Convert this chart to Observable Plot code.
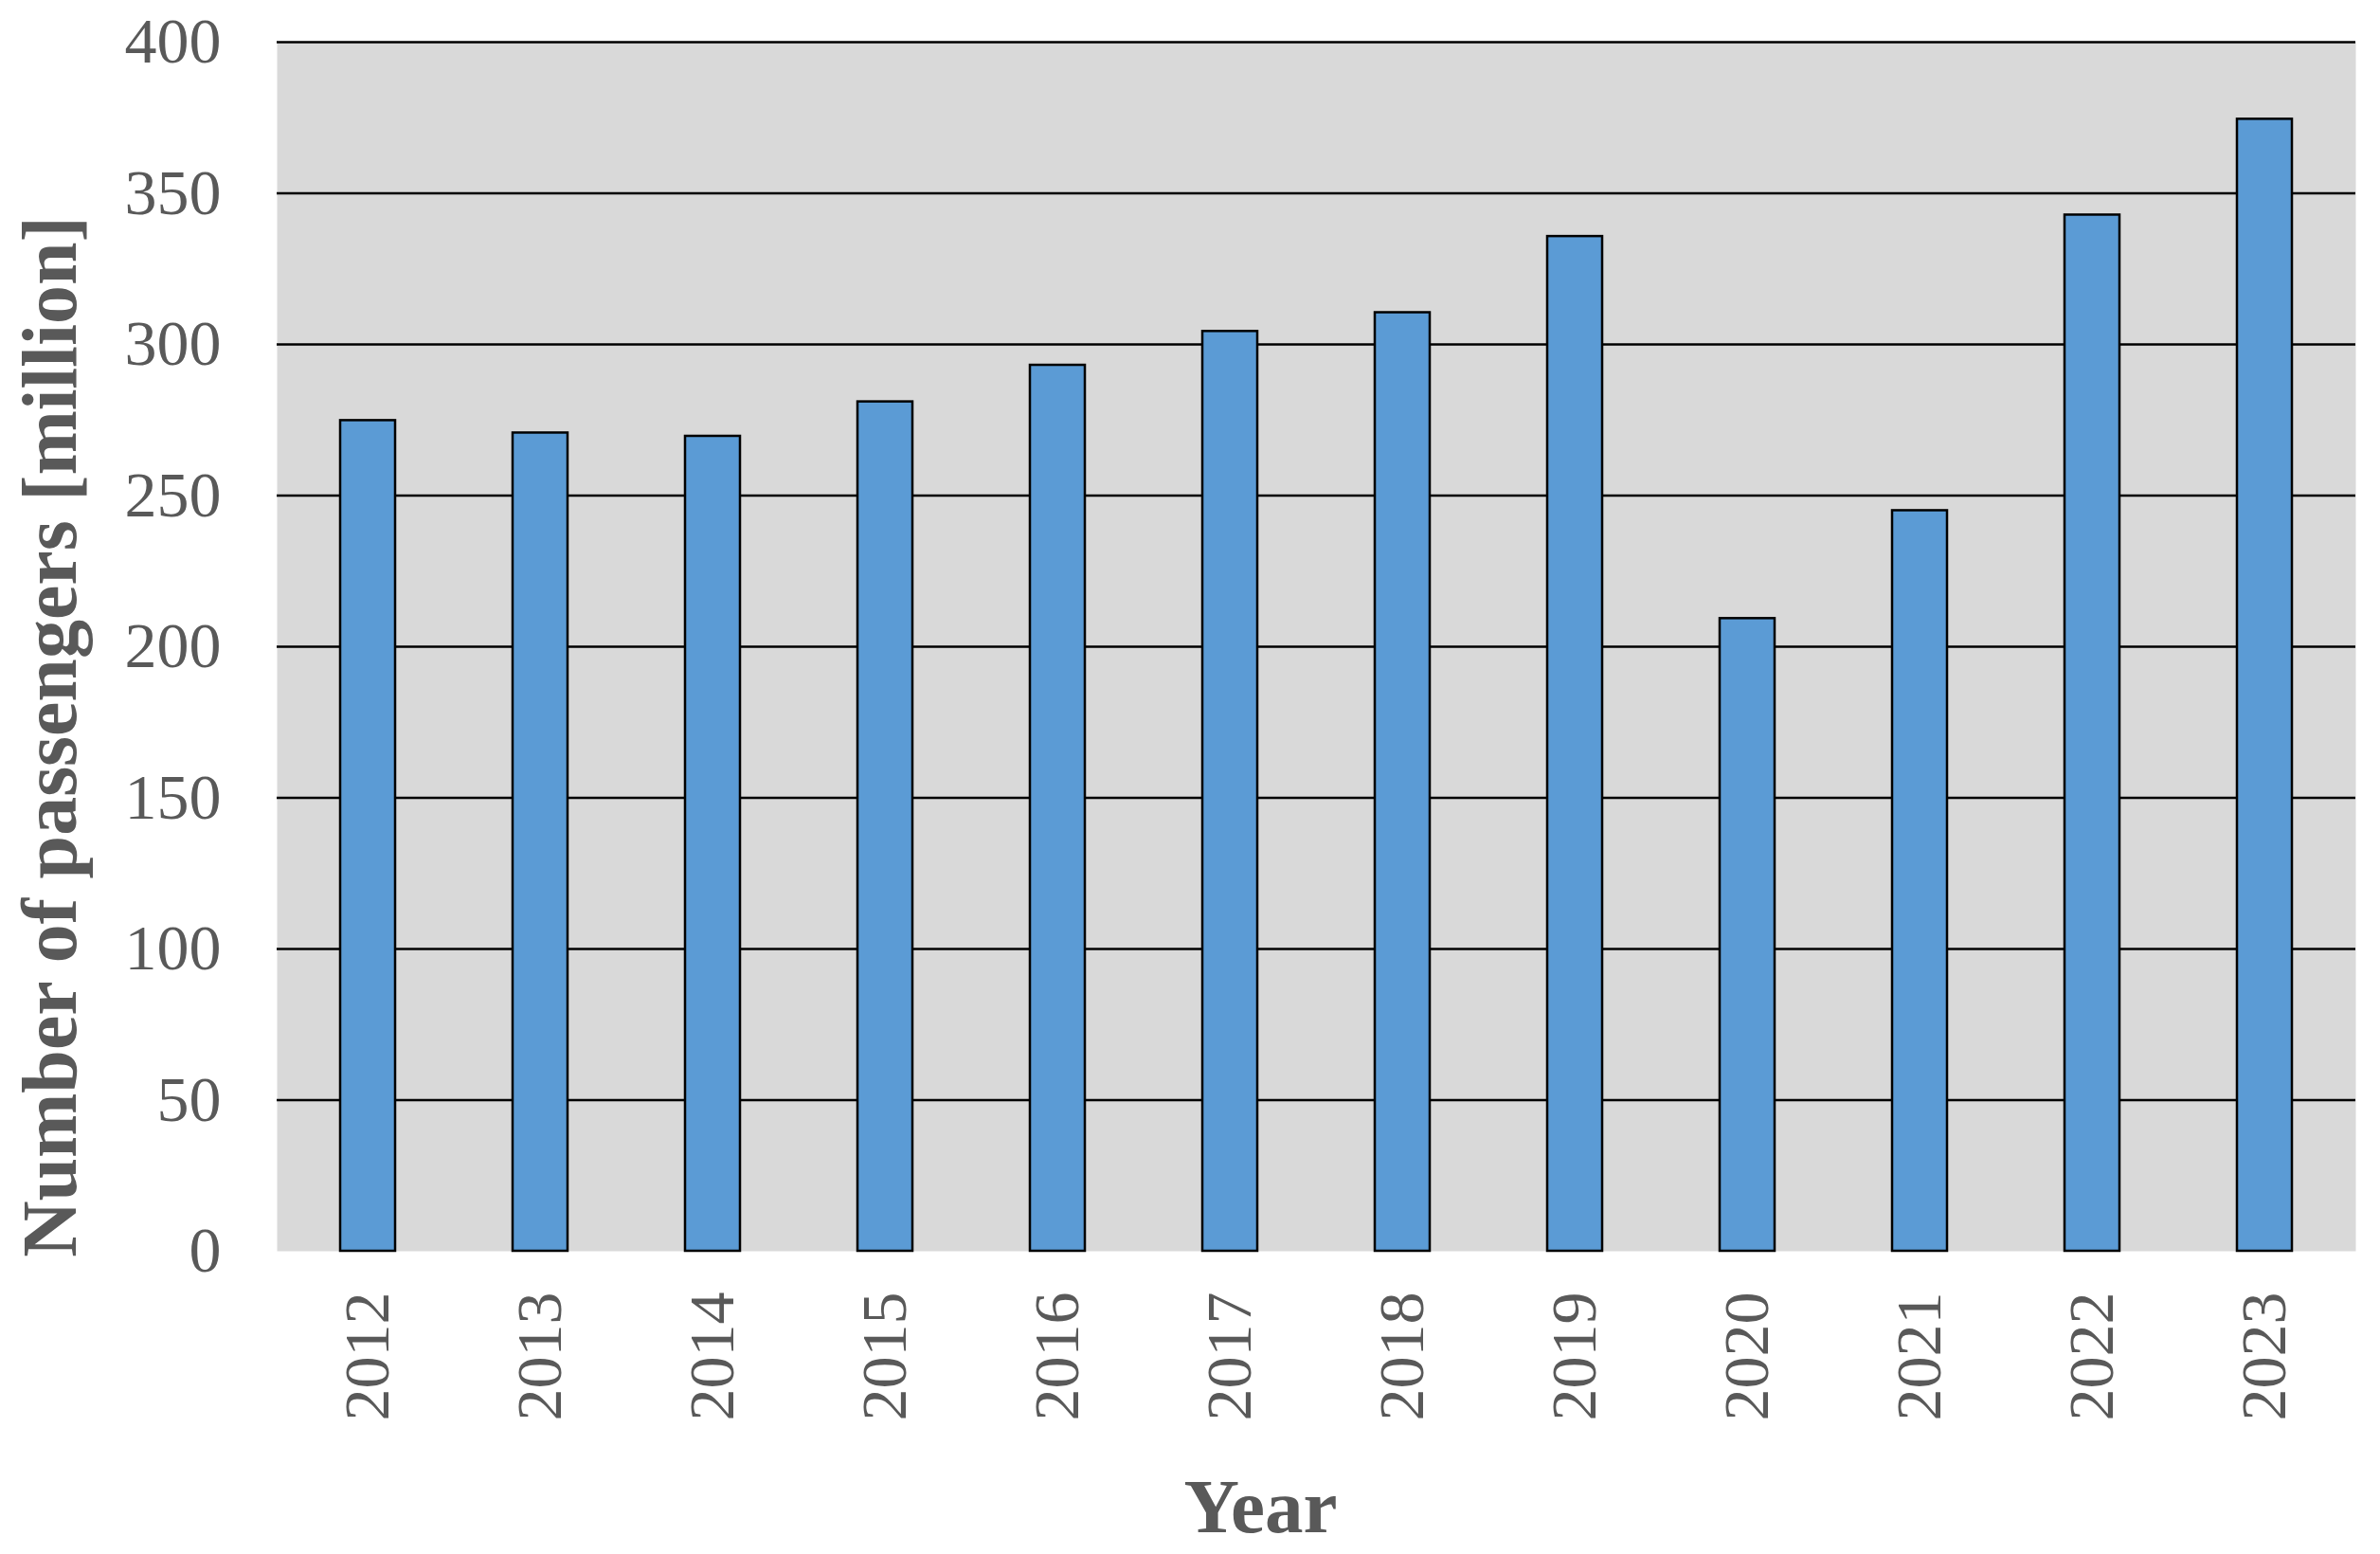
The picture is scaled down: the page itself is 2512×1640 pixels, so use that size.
<!DOCTYPE html>
<html>
<head>
<meta charset="utf-8">
<script src="https://cdn.jsdelivr.net/npm/d3@7"></script>
<script src="https://cdn.jsdelivr.net/npm/@observablehq/plot@0.6"></script>
<style>
  html, body { margin: 0; padding: 0; background: #ffffff; }
</style>
</head>
<body>
<div id="chart"></div>
<script>
const years = ["2012", "2013", "2014", "2015", "2016", "2017", "2018", "2019", "2020", "2021", "2022", "2023"];
const passengers = [274.8, 270.7, 269.6, 281.0, 293.1, 304.3, 310.5, 335.7, 209.3, 245.0, 342.8, 374.5];
const yTicks = [0, 50, 100, 150, 200, 250, 300, 350, 400];
const gridTicks = [50, 100, 150, 200, 250, 300, 350, 400];
const yTitle = "Number of passengers [million]";
const xTitle = "Year";

const data = years.map((year, i) => ({ year, value: passengers[i] }));

const textColor = "#595959";

const chart = Plot.plot({
  width: 2512,
  height: 1640,
  marginLeft: 292,
  marginRight: 26,
  marginTop: 44,
  marginBottom: 320,
  style: {
    fontFamily: "'Liberation Serif', 'Times New Roman', serif",
    color: textColor,
    background: "#ffffff"
  },
  x: { domain: years, paddingInner: 0.68, paddingOuter: 0.34, label: null },
  y: { domain: [0, 400], label: null },
  marks: [
    Plot.frame({ fill: "#d9d9d9", stroke: "none" }),
    Plot.ruleY(gridTicks, { stroke: "#000000", strokeWidth: 2.5 }),
    Plot.barY(data, { x: "year", y: "value", fill: "#5b9bd5", stroke: "#000000", strokeWidth: 2.5 }),
    Plot.axisY(yTicks, { tickSize: 0, tickPadding: 59, fontSize: 68, fill: textColor, label: null }),
    Plot.axisX({ tickSize: 0, tickPadding: 43, tickRotate: -90, fontSize: 68, fill: textColor, label: null }),
    Plot.text([yTitle], {
      text: d => d, frameAnchor: "left", textAnchor: "middle", lineAnchor: "middle",
      dx: -239, dy: 95, rotate: -90,
      fontSize: 82, fontWeight: "bold", fill: textColor
    }),
    Plot.text([xTitle], {
      text: d => d, frameAnchor: "bottom", textAnchor: "middle", lineAnchor: "middle",
      dx: -59, dy: 271,
      fontSize: 81, fontWeight: "bold", fill: textColor
    })
  ]
});

document.getElementById("chart").appendChild(chart);
</script>
</body>
</html>
